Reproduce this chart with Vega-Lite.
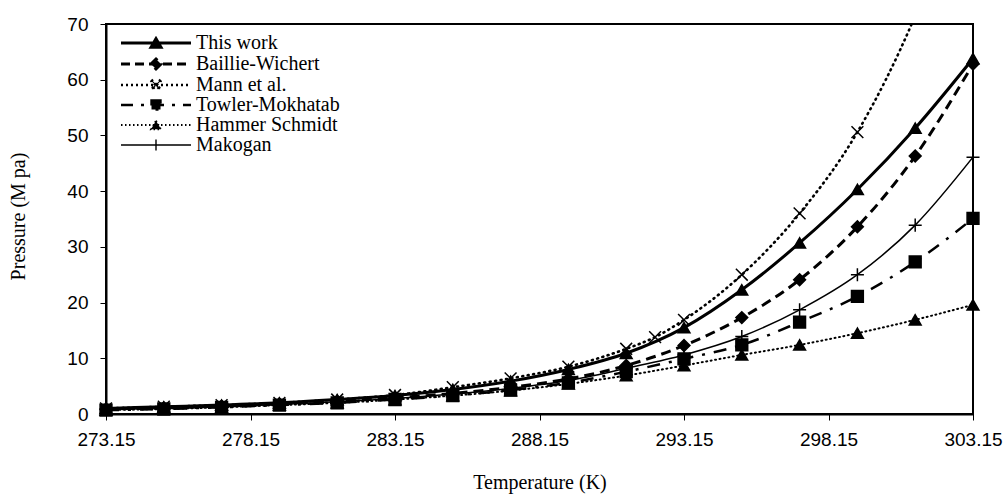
{
  "$schema": "https://vega.github.io/schema/vega-lite/v6.json",
  "width": 867,
  "height": 390,
  "autosize": {"type": "none"},
  "padding": {"left": 106, "top": 24, "right": 35, "bottom": 80},
  "background": "white",
  "config": {
    "view": {"stroke": "black", "strokeWidth": 2},
    "font": "Liberation Sans",
    "point": {"stroke": "black", "fill": "black"},
    "axis": {"grid": false, "domainColor": "black", "domainWidth": 2, "tickColor": "black", "tickSize": 6, "tickWidth": 1, "labelColor": "black", "labelFont": "Liberation Sans", "labelFontSize": 19, "titleFont": "Liberation Serif", "titleFontSize": 20, "titleFontWeight": "normal", "titleColor": "black"}
  },
  "data": {
    "values": [
      {"series": "This work", "T": 273.15, "P": 1.0},
      {"series": "This work", "T": 275.15, "P": 1.3},
      {"series": "This work", "T": 277.15, "P": 1.6},
      {"series": "This work", "T": 279.15, "P": 2.0},
      {"series": "This work", "T": 281.15, "P": 2.6},
      {"series": "This work", "T": 283.15, "P": 3.3},
      {"series": "This work", "T": 285.15, "P": 4.4},
      {"series": "This work", "T": 287.15, "P": 5.9},
      {"series": "This work", "T": 289.15, "P": 8.0},
      {"series": "This work", "T": 291.15, "P": 10.9},
      {"series": "This work", "T": 293.15, "P": 15.5},
      {"series": "This work", "T": 295.15, "P": 22.3},
      {"series": "This work", "T": 297.15, "P": 30.7},
      {"series": "This work", "T": 299.15, "P": 40.3},
      {"series": "This work", "T": 301.15, "P": 51.3},
      {"series": "This work", "T": 303.15, "P": 63.8},
      {"series": "Baillie-Wichert", "T": 273.15, "P": 0.9},
      {"series": "Baillie-Wichert", "T": 275.15, "P": 1.1},
      {"series": "Baillie-Wichert", "T": 277.15, "P": 1.4},
      {"series": "Baillie-Wichert", "T": 279.15, "P": 1.8},
      {"series": "Baillie-Wichert", "T": 281.15, "P": 2.3},
      {"series": "Baillie-Wichert", "T": 283.15, "P": 2.9},
      {"series": "Baillie-Wichert", "T": 285.15, "P": 3.7},
      {"series": "Baillie-Wichert", "T": 287.15, "P": 4.8},
      {"series": "Baillie-Wichert", "T": 289.15, "P": 6.3},
      {"series": "Baillie-Wichert", "T": 291.15, "P": 8.7},
      {"series": "Baillie-Wichert", "T": 293.15, "P": 12.3},
      {"series": "Baillie-Wichert", "T": 295.15, "P": 17.3},
      {"series": "Baillie-Wichert", "T": 297.15, "P": 24.1},
      {"series": "Baillie-Wichert", "T": 299.15, "P": 33.6},
      {"series": "Baillie-Wichert", "T": 301.15, "P": 46.3},
      {"series": "Baillie-Wichert", "T": 303.15, "P": 62.8},
      {"series": "Mann et al.", "T": 273.15, "P": 1.0},
      {"series": "Mann et al.", "T": 275.15, "P": 1.3},
      {"series": "Mann et al.", "T": 277.15, "P": 1.6},
      {"series": "Mann et al.", "T": 279.15, "P": 2.0},
      {"series": "Mann et al.", "T": 281.15, "P": 2.6},
      {"series": "Mann et al.", "T": 283.15, "P": 3.4},
      {"series": "Mann et al.", "T": 285.15, "P": 4.8},
      {"series": "Mann et al.", "T": 287.15, "P": 6.4},
      {"series": "Mann et al.", "T": 289.15, "P": 8.5},
      {"series": "Mann et al.", "T": 291.15, "P": 11.7},
      {"series": "Mann et al.", "T": 292.15, "P": 13.8},
      {"series": "Mann et al.", "T": 293.15, "P": 16.9},
      {"series": "Mann et al.", "T": 295.15, "P": 25.0},
      {"series": "Mann et al.", "T": 297.15, "P": 36.0},
      {"series": "Mann et al.", "T": 299.15, "P": 50.6},
      {"series": "Mann et al.", "T": 301.15, "P": 71.5},
      {"series": "Mann et al.", "T": 303.15, "P": 100.0},
      {"series": "Towler-Mokhatab", "T": 273.15, "P": 0.7},
      {"series": "Towler-Mokhatab", "T": 275.15, "P": 0.9},
      {"series": "Towler-Mokhatab", "T": 277.15, "P": 1.2},
      {"series": "Towler-Mokhatab", "T": 279.15, "P": 1.6},
      {"series": "Towler-Mokhatab", "T": 281.15, "P": 2.0},
      {"series": "Towler-Mokhatab", "T": 283.15, "P": 2.6},
      {"series": "Towler-Mokhatab", "T": 285.15, "P": 3.3},
      {"series": "Towler-Mokhatab", "T": 287.15, "P": 4.3},
      {"series": "Towler-Mokhatab", "T": 289.15, "P": 5.6},
      {"series": "Towler-Mokhatab", "T": 291.15, "P": 7.6},
      {"series": "Towler-Mokhatab", "T": 293.15, "P": 9.9},
      {"series": "Towler-Mokhatab", "T": 295.15, "P": 12.4},
      {"series": "Towler-Mokhatab", "T": 297.15, "P": 16.5},
      {"series": "Towler-Mokhatab", "T": 299.15, "P": 21.1},
      {"series": "Towler-Mokhatab", "T": 301.15, "P": 27.3},
      {"series": "Towler-Mokhatab", "T": 303.15, "P": 35.1},
      {"series": "Hammer Schmidt", "T": 273.15, "P": 0.7},
      {"series": "Hammer Schmidt", "T": 275.15, "P": 0.9},
      {"series": "Hammer Schmidt", "T": 277.15, "P": 1.2},
      {"series": "Hammer Schmidt", "T": 279.15, "P": 1.6},
      {"series": "Hammer Schmidt", "T": 281.15, "P": 2.0},
      {"series": "Hammer Schmidt", "T": 283.15, "P": 2.6},
      {"series": "Hammer Schmidt", "T": 285.15, "P": 3.3},
      {"series": "Hammer Schmidt", "T": 287.15, "P": 4.2},
      {"series": "Hammer Schmidt", "T": 289.15, "P": 5.4},
      {"series": "Hammer Schmidt", "T": 291.15, "P": 6.9},
      {"series": "Hammer Schmidt", "T": 293.15, "P": 8.7},
      {"series": "Hammer Schmidt", "T": 295.15, "P": 10.6},
      {"series": "Hammer Schmidt", "T": 297.15, "P": 12.4},
      {"series": "Hammer Schmidt", "T": 299.15, "P": 14.5},
      {"series": "Hammer Schmidt", "T": 301.15, "P": 16.9},
      {"series": "Hammer Schmidt", "T": 303.15, "P": 19.6},
      {"series": "Makogan", "T": 273.15, "P": 0.8},
      {"series": "Makogan", "T": 275.15, "P": 1.0},
      {"series": "Makogan", "T": 277.15, "P": 1.3},
      {"series": "Makogan", "T": 279.15, "P": 1.7},
      {"series": "Makogan", "T": 281.15, "P": 2.2},
      {"series": "Makogan", "T": 283.15, "P": 2.8},
      {"series": "Makogan", "T": 285.15, "P": 3.6},
      {"series": "Makogan", "T": 287.15, "P": 4.6},
      {"series": "Makogan", "T": 289.15, "P": 6.0},
      {"series": "Makogan", "T": 291.15, "P": 8.2},
      {"series": "Makogan", "T": 293.15, "P": 10.6},
      {"series": "Makogan", "T": 295.15, "P": 13.9},
      {"series": "Makogan", "T": 297.15, "P": 18.7},
      {"series": "Makogan", "T": 299.15, "P": 25.0},
      {"series": "Makogan", "T": 301.15, "P": 33.9},
      {"series": "Makogan", "T": 303.15, "P": 46.1}
    ]
  },
  "encoding": {
    "x": {"field": "T", "type": "quantitative", "scale": {"domain": [273.15, 303.15], "nice": false, "zero": false},
      "axis": {"title": "Temperature (K)", "values": [273.15, 278.15, 283.15, 288.15, 293.15, 298.15, 303.15], "format": ".2f", "labelPadding": 10, "titleY": 58, "labelFlush": false}},
    "y": {"field": "P", "type": "quantitative", "scale": {"domain": [0, 70], "nice": false, "zero": true},
      "axis": {"title": "Pressure (M pa)", "values": [0, 10, 20, 30, 40, 50, 60, 70], "labelPadding": 12, "titleX": -88, "titleY": 192, "titleBaseline": "middle"}}
  },
  "resolve": {"scale": {"shape": "independent", "strokeDash": "independent", "strokeWidth": "independent"}, "legend": {"shape": "independent", "strokeDash": "independent", "strokeWidth": "independent"}},
  "layer": [
    {"transform": [{"filter": "datum.series === 'Hammer Schmidt'"}], "mark": {"type": "line", "color": "black", "strokeWidth": 2, "strokeDash": [1, 3.5], "strokeCap": "round", "interpolate": "monotone", "clip": true}},
    {"transform": [{"filter": "datum.series === 'Makogan'"}], "mark": {"type": "line", "color": "black", "strokeWidth": 1.5, "interpolate": "monotone", "clip": true}},
    {"transform": [{"filter": "datum.series === 'Towler-Mokhatab'"}], "mark": {"type": "line", "color": "black", "strokeWidth": 2.5, "strokeDash": [13, 9, 3, 9], "interpolate": "monotone", "clip": true}},
    {"transform": [{"filter": "datum.series === 'Mann et al.'"}], "mark": {"type": "line", "color": "black", "strokeWidth": 2.6, "strokeDash": [1, 4.5], "strokeCap": "round", "interpolate": "monotone", "clip": true}},
    {"transform": [{"filter": "datum.series === 'Baillie-Wichert'"}], "mark": {"type": "line", "color": "black", "strokeWidth": 3, "strokeDash": [10, 6], "interpolate": "monotone", "clip": true}},
    {"transform": [{"filter": "datum.series === 'This work'"}], "mark": {"type": "line", "color": "black", "strokeWidth": 3, "interpolate": "monotone", "clip": true}},
    {
      "transform": [{"filter": "datum.P <= 70"}],
      "mark": {"type": "point", "filled": true, "fill": "black", "stroke": "black", "strokeWidth": 1.5, "size": 140, "opacity": 1, "clip": false},
      "encoding": {
        "shape": {"field": "series", "type": "nominal", "legend": null,
          "scale": {"domain": ["This work", "Baillie-Wichert", "Mann et al.", "Towler-Mokhatab", "Hammer Schmidt", "Makogan"],
            "range": ["triangle-up", "diamond", "M-1,-1L1,1M-1,1L1,-1", "square", "triangle-up", "M-1.1,0L1.1,0M0,-1.1L0,1.1"]}}
      }
    },
    {
      "transform": [{"filter": "false"}],
      "mark": {"type": "point", "filled": true, "fill": "black", "stroke": "black"},
      "encoding": {
        "stroke": {"value": "black"},
        "shape": {"field": "series", "type": "nominal",
          "scale": {"domain": ["This work", "Baillie-Wichert", "Mann et al.", "Towler-Mokhatab", "Hammer Schmidt", "Makogan"],
            "range": [
              "M-7,0L7,0M0,-0.87L1,0.87L-1,0.87Z",
              "M-7,0L7,0M-1,0L0,-1L1,0L0,1Z",
              "M-7,0L7,0M-0.9,-0.75L-0.75,-0.9L0.9,0.75L0.75,0.9ZM0.9,-0.75L0.75,-0.9L-0.9,0.75L-0.75,0.9Z",
              "M-7,0L7,0M-0.9,-0.9L0.9,-0.9L0.9,0.9L-0.9,0.9Z",
              "M-7,0L7,0M0,-0.87L1,0.87L-1,0.87Z",
              "M-7,0L7,0M0,-1.1L0,1.1"
            ]},
          "legend": {
            "title": null, "orient": "none", "legendX": 10, "legendY": 9,
            "symbolSize": 100, "symbolStrokeWidth": 2.2, "symbolOffset": 30, "labelOffset": 30,
            "labelFont": "Liberation Serif", "labelFontSize": 20, "labelColor": "black", "labelLimit": 300, "rowPadding": -2,
            "symbolOpacity": 1
          }
        },
        "strokeDash": {"field": "series", "type": "nominal",
          "scale": {"domain": ["This work", "Baillie-Wichert", "Mann et al.", "Towler-Mokhatab", "Hammer Schmidt", "Makogan"],
            "range": [[1, 0], [9, 5], [2, 3], [12, 8, 3, 8], [1.5, 2.5], [1, 0]]}},
        "strokeWidth": {"field": "series", "type": "ordinal",
          "scale": {"type": "ordinal", "domain": ["This work", "Baillie-Wichert", "Mann et al.", "Towler-Mokhatab", "Hammer Schmidt", "Makogan"],
            "range": [3, 3, 2.4, 2.4, 1.8, 1.4]}}
      }
    }
  ]
}
